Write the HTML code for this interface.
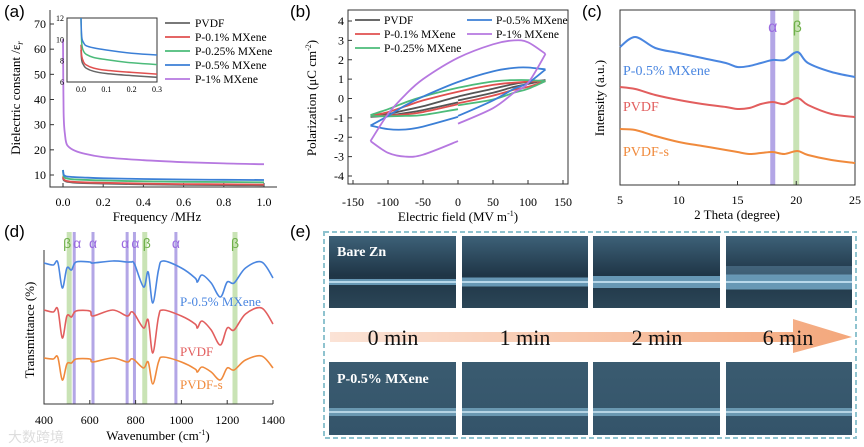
<!DOCTYPE html>
<html><head><meta charset="utf-8"><style>
html,body{margin:0;padding:0;background:#fff;}
svg{display:block;font-family:"Liberation Serif",serif;}
.pl{font-family:"Liberation Sans",sans-serif;font-size:17px;}
</style></head><body>
<svg id="fig" width="864" height="447" viewBox="0 0 864 447" xmlns="http://www.w3.org/2000/svg">
<defs>
<linearGradient id="arrowGrad" x1="0" x2="1" y1="0" y2="0"><stop offset="0" stop-color="#fbe3d6"/><stop offset="1" stop-color="#f4a77b"/></linearGradient>
<linearGradient id="topPhoto" x1="0" x2="0" y1="0" y2="1"><stop offset="0" stop-color="#3d6178"/><stop offset="0.55" stop-color="#1f3546"/><stop offset="1" stop-color="#2b4657"/></linearGradient>
<linearGradient id="botPhoto" x1="0" x2="0" y1="0" y2="1"><stop offset="0" stop-color="#3a5b70"/><stop offset="1" stop-color="#34546a"/></linearGradient>
</defs>
<rect width="864" height="447" fill="#fff"/>
<text class="pl" x="4" y="17">(a)</text>
<text class="pl" x="290" y="17">(b)</text>
<text class="pl" x="582" y="17">(c)</text>
<text class="pl" x="4" y="237">(d)</text>
<text class="pl" x="290" y="237">(e)</text>
<g id="ga"></g>
<g id="gb"></g>
<g id="gc"></g>
<g id="gd"></g>
<g id="ge">
<rect x="324" y="232" width="532" height="206" fill="none" stroke="#8fc3cf" stroke-width="2" stroke-dasharray="5,3"/>
<path d="M330,332 L793,332 L793,319 L852,337 L793,353 L793,342 L330,342 Z" fill="url(#arrowGrad)"/>
<g font-size="22" fill="#111" text-anchor="middle">
<text x="393" y="345">0 min</text>
<text x="525" y="345">1 min</text>
<text x="657" y="345">2 min</text>
<text x="788" y="345">6 min</text>
</g>
</g>
<text x="8" y="442" font-family="Liberation Sans,Noto Sans CJK SC,sans-serif" font-size="14" fill="#ddd">大数跨境</text>
</svg>
<script>
const NS='http://www.w3.org/2000/svg';
function el(p,t,a,txt){const e=document.createElementNS(NS,t);for(const k in a)e.setAttribute(k,a[k]);if(txt!==undefined)e.textContent=txt;p.appendChild(e);return e;}
function lin(d0,d1,r0,r1){return v=>r0+(v-d0)*(r1-r0)/(d1-d0);}
function smooth(pts){if(!pts.length)return'';let d='M'+pts[0][0].toFixed(1)+','+pts[0][1].toFixed(1);for(let i=0;i<pts.length-1;i++){const p0=pts[i-1]||pts[i],p1=pts[i],p2=pts[i+1],p3=pts[i+2]||p2;const c1=[p1[0]+(p2[0]-p0[0])/6,p1[1]+(p2[1]-p0[1])/6],c2=[p2[0]-(p3[0]-p1[0])/6,p2[1]-(p3[1]-p1[1])/6];d+='C'+c1.map(v=>v.toFixed(1))+' '+c2.map(v=>v.toFixed(1))+' '+p2.map(v=>v.toFixed(1));}return d;}

/* ---------- Panel A data ---------- */
const aFreq=[0,0.003,0.01,0.02,0.05,0.1,0.2,0.4,0.6,0.8,1.0];
const aPVDF=[9,8,7.6,7.3,7,6.8,6.6,6.3,6.1,6,5.9];
const aP01=[9.5,8.4,7.9,7.6,7.3,7.1,6.9,6.6,6.4,6.3,6.2];
const aP025=[12,9.6,8.9,8.6,8.3,8.1,7.8,7.5,7.3,7.2,7.1];
const aP05=[12,10.2,9.7,9.4,9.2,9,8.7,8.4,8.2,8.1,8.0];
const aP1=[64,35,26,22,20,18.6,17.1,15.9,15.1,14.6,14.3];
const aNames=['PVDF','P-0.1% MXene','P-0.25% MXene','P-0.5% MXene','P-1% MXene'];
const aColors=['#666','#e0504f','#4cbb7a','#3b7fd6','#b678e0'];
const aXTicks=[0,0.2,0.4,0.6,0.8,1.0];
const aYTicks=[10,20,30,40,50,60,70];
const aInsetXTicks=[0,0.1,0.2,0.3];
const aInsetYTicks=[6,8,10,12];
(function(){
 const g=document.getElementById('ga');
 const X=lin(0,1,63,264),Y=lin(10,70,175,24);
 el(g,'path',{d:'M50,10 L50,187 L277,187',fill:'none',stroke:'#333','stroke-width':1});
 aXTicks.forEach(t=>{el(g,'line',{x1:X(t),x2:X(t),y1:187,y2:183,stroke:'#333'});const e=el(g,'text',{x:X(t),y:206,'font-size':12,'text-anchor':'middle'},t.toFixed(1));});
 aYTicks.forEach(t=>{el(g,'line',{x1:50,x2:54,y1:Y(t),y2:Y(t),stroke:'#333'});const e=el(g,'text',{x:46,y:Y(t)+4,'font-size':12,'text-anchor':'end'},t);});
 const xt=el(g,'text',{x:157,y:221,'font-size':13,'text-anchor':'middle'},'Frequency /MHz');
 const yt=el(g,'text',{x:0,y:0,'font-size':13,'text-anchor':'middle',transform:'translate(20,98) rotate(-90)'},'Dielectric constant /ε');
 el(yt,'tspan',{'font-size':9,dy:3,'font-style':'italic'},'r');
 const series=[aPVDF,aP01,aP025,aP05,aP1];
 series.forEach((s,i)=>{const p=el(g,'path',{d:smooth(aFreq.map((f,j)=>[X(f),Y(s[j])])),fill:'none',stroke:aColors[i],'stroke-width':1.8});});
 // inset
 const IX=lin(0,0.3,81,157),IY=lin(6,12,82,18);
 el(g,'rect',{x:67,y:18,width:90,height:64,fill:'#fff',stroke:'#333','stroke-width':1});
 const cl=el(g,'clipPath',{id:'insetClip'});el(cl,'rect',{x:67,y:18,width:90,height:64});
 const ig=el(g,'g',{'clip-path':'url(#insetClip)'});
 series.slice(0,4).forEach((s,i)=>{const p=el(ig,'path',{d:smooth(aFreq.map((f,j)=>[IX(f),IY(s[j])])),fill:'none',stroke:aColors[i],'stroke-width':1.5});});
 aInsetXTicks.forEach(t=>{el(g,'text',{x:IX(t),y:92,'font-size':8,'text-anchor':'middle'},t.toFixed(1));});
 aInsetYTicks.forEach(t=>{el(g,'text',{x:64,y:IY(t)+3,'font-size':8,'text-anchor':'end'},t);});
 aNames.forEach((n,i)=>{const y=23+i*14;el(g,'line',{x1:165,x2:190,y1:y,y2:y,stroke:aColors[i],'stroke-width':1.8});const t=el(g,'text',{x:195,y:y+4,'font-size':11.5},n);});
})();

/* ---------- Panel B data ---------- */
const bField=[-125,-100,-75,-50,0,50,80,100,125];
const bNames=['PVDF','P-0.1% MXene','P-0.25% MXene','P-0.5% MXene','P-1% MXene'];
const bColors=['#555','#e0504f','#4cbb7a','#3b7fd6','#b678e0'];
const bUpper=[[-0.95,-0.8,-0.6,-0.4,0.1,0.5,0.75,0.85,0.95],[-0.9,-0.7,-0.4,-0.1,0.35,0.7,0.82,0.87,0.9],[-0.85,-0.55,-0.2,0.1,0.55,0.88,0.95,0.95,0.9],[-1.4,-0.9,-0.35,0.1,0.85,1.4,1.58,1.6,1.5],[-2.2,-0.8,0.2,1.0,2.1,2.8,3.0,2.9,2.3]];
const bLower=[[-0.95,-0.88,-0.75,-0.6,-0.2,0.3,0.6,0.75,0.95],[-0.9,-0.88,-0.82,-0.7,-0.3,0.15,0.45,0.6,0.9],[-0.9,-0.92,-0.9,-0.85,-0.55,-0.05,0.3,0.5,0.9],[-1.4,-1.58,-1.6,-1.45,-0.95,-0.1,0.5,0.8,1.5],[-2.2,-2.8,-3.0,-2.9,-2.2,-0.5,0.3,0.8,2.3]];
const bLowerAt0Right=[-0.1,-0.25,-0.35,-0.9,-1.3];
const bXTicks=[-150,-100,-50,0,50,100,150];
const bYTicks=[-4,-3,-2,-1,0,1,2,3,4];
(function(){
 const g=document.getElementById('gb');
 const X=lin(-150,150,353,563),Y=lin(-4,4,176,21);
 el(g,'rect',{x:348,y:10,width:220,height:174,fill:'none',stroke:'#333'});
 bXTicks.forEach(t=>{el(g,'line',{x1:X(t),x2:X(t),y1:184,y2:180,stroke:'#333'});const e=el(g,'text',{x:X(t),y:206,'font-size':12,'text-anchor':'middle'},t);});
 bYTicks.forEach(t=>{el(g,'line',{x1:348,x2:352,y1:Y(t),y2:Y(t),stroke:'#333'});const e=el(g,'text',{x:344,y:Y(t)+4,'font-size':12,'text-anchor':'end'},t);});
 const xt=el(g,'text',{x:458,y:221,'font-size':13,'text-anchor':'middle'},'Electric field (MV m');
 el(xt,'tspan',{'font-size':8,dy:-5},'-1');el(xt,'tspan',{dy:5},')');
 const yt=el(g,'text',{x:0,y:0,'font-size':13,'text-anchor':'middle',transform:'translate(316,98) rotate(-90)'},'Polarization (μC cm');
 el(yt,'tspan',{'font-size':8,dy:-5},'-2');el(yt,'tspan',{dy:5},')');
 const i0=bField.indexOf(0);
 bNames.forEach((n,i)=>{
  const up=bField.map((e,j)=>[X(e),Y(bUpper[i][j])]);
  const lowR=[];for(let j=bField.length-1;j>i0;j--)lowR.push([X(bField[j]),Y(bLower[i][j])]);lowR.push([X(0),Y(bLowerAt0Right[i])]);
  const lowL=[];for(let j=i0;j>=0;j--)lowL.push([X(bField[j]),Y(bLower[i][j])]);
  const p=el(g,'path',{d:smooth(lowL.slice().reverse().concat([]))+' '+smooth(up)+' '+smooth(lowR),fill:'none',stroke:bColors[i],'stroke-width':1.8});
  
 });
 const pos=[[355,20],[355,34],[355,48],[467,20],[467,34]];
 bNames.forEach((n,i)=>{const [x,y]=pos[i];el(g,'line',{x1:x,x2:x+25,y1:y,y2:y,stroke:bColors[i],'stroke-width':1.8});const t=el(g,'text',{x:x+29,y:y+4,'font-size':11.5},n);});
})();

/* ---------- Panel C data ---------- */
const cTheta=[5,6.3,8,10,12,14,15,16,17,18,19,20.1,21,23,25];
const cBlue=[138,148,137,132,127,122,118,119,122,125,125,133,122,113,108];
const cRed=[98,96,90,85,81,78,76,77,81,83,81,87,80,71,68];
const cOrange=[56,55,49,43,39,35,33,31,32,33,31,34,30,25,22];
const cXTicks=[5,10,15,20,25];
const cAlpha=18, cBeta=20;
(function(){
 const g=document.getElementById('gc');
 const X=lin(5,25,620,855),Y=lin(0,175,185,10);
 el(g,'rect',{x:X(cAlpha)-2.5,y:10,width:5,height:175,fill:'#b3a6e6'});
 el(g,'rect',{x:X(cBeta)-3,y:10,width:6,height:175,fill:'#c9e3b5'});
 el(g,'text',{x:X(cAlpha),y:32,'font-size':16,fill:'#9b6be0','text-anchor':'middle','font-family':'Liberation Sans,sans-serif'},'α');
 el(g,'text',{x:X(cBeta)+1,y:32,'font-size':16,fill:'#6fb04a','text-anchor':'middle','font-family':'Liberation Sans,sans-serif'},'β');
 el(g,'rect',{x:620,y:10,width:235,height:175,fill:'none',stroke:'#333'});
 cXTicks.forEach(t=>{el(g,'line',{x1:X(t),x2:X(t),y1:185,y2:181,stroke:'#333'});const e=el(g,'text',{x:X(t),y:204,'font-size':12,'text-anchor':'middle'},t);});
 const xt=el(g,'text',{x:737,y:219,'font-size':13,'text-anchor':'middle'},'2 Theta (degree)');
 const yt=el(g,'text',{x:0,y:0,'font-size':13,'text-anchor':'middle',transform:'translate(604,98) rotate(-90)'},'Intensity (a.u.)');
 const S=[[cBlue,'#4a86e0','P-0.5% MXene',75],[cRed,'#e25e5e','PVDF',111],[cOrange,'#f08a3c','PVDF-s',156]];
 S.forEach(([s,c,n,ly])=>{const p=el(g,'path',{d:smooth(cTheta.map((t,j)=>[X(t),Y(s[j])])),fill:'none',stroke:c,'stroke-width':2});
  const t=el(g,'text',{x:623,y:ly,'font-size':14,fill:c},n);});
})();

/* ---------- Panel D data ---------- */
const dWave=[400,440,460,480,500,520,540,600,614,700,763,780,795,835,855,875,900,920,1000,1060,1070,1090,1130,1170,1200,1230,1280,1350,1400];
const dBlue=[157,155,158,132,152,150,158,158,157,159,158,158,156,133,148,117,150,159,152,142,138,145,137,123,138,137,152,158,142];
const dRed=[110,108,111,82,104,103,109,109,104,110,104,108,106,92,100,67,103,110,104,96,92,99,90,75,92,90,106,112,96];
const dOrange=[62,61,63,40,56,57,61,61,58,62,58,61,60,52,58,36,58,63,58,51,48,53,48,40,52,50,60,64,52];
const dBands=[[510,'β'],[532,'α'],[614,'α'],[763,'α'],[795,'α'],[840,'β'],[976,'α'],[1234,'β']];
const dXTicks=[400,600,800,1000,1200,1400];
(function(){
 const g=document.getElementById('gd');
 const X=lin(400,1400,44,273),Y=lin(0,200,420,220);
 dBands.forEach(([w,s])=>{const isA=s==='α';const r=el(g,'rect',{x:X(w)-(isA?1.5:2.5),y:232,width:isA?3:5,height:172,fill:isA?'#b3a6e6':'#c9e3b5'});});
 dBands.forEach(([w,s],i)=>{let dx=0;if(w===510)dx=-2;if(w===532)dx=3;if(w===763)dx=-2;if(w===795)dx=1;if(w===840)dx=2;el(g,'text',{x:X(w)+dx,y:248,'font-size':14,fill:s==='α'?'#9b6be0':'#6fb04a','text-anchor':'middle','font-family':'Liberation Sans,sans-serif'},s);});
 el(g,'path',{d:'M44,250 L44,404 L273,404',fill:'none',stroke:'#333'});
 dXTicks.forEach(t=>{el(g,'line',{x1:X(t),x2:X(t),y1:404,y2:400,stroke:'#333'});const e=el(g,'text',{x:X(t),y:424,'font-size':12,'text-anchor':'middle'},t);});
 const xt=el(g,'text',{x:158,y:440,'font-size':13,'text-anchor':'middle'},'Wavenumber (cm');
 el(xt,'tspan',{'font-size':8,dy:-5},'-1');el(xt,'tspan',{dy:5},')');
 const yt=el(g,'text',{x:0,y:0,'font-size':13,'text-anchor':'middle',transform:'translate(34,330) rotate(-90)'},'Transmittance (%)');
 const S=[[dBlue,'#4a86e0','P-0.5% MXene',306],[dRed,'#e25e5e','PVDF',356],[dOrange,'#f08a3c','PVDF-s',389]];
 S.forEach(([s,c,n,ly])=>{const p=el(g,'path',{d:smooth(dWave.map((w,j)=>[X(w),Y(s[j])])),fill:'none',stroke:c,'stroke-width':1.6});
  const t=el(g,'text',{x:180,y:ly,'font-size':13,fill:c},n);});
})();

/* ---------- Panel E photos ---------- */
(function(){
 const g=document.getElementById('ge');
 const cols=[[329,456],[462,588],[593,720],[726,852]];
 cols.forEach(([x0,x1],i)=>{
  const r1=el(g,'rect',{x:x0,y:236,width:x1-x0,height:72,fill:'url(#topPhoto)'});
  const bw=3+i*1.5;
  el(g,'rect',{x:x0,y:282-bw,width:x1-x0,height:bw*2,fill:'#7fb8d8',opacity:0.75});
  el(g,'rect',{x:x0,y:281,width:x1-x0,height:2,fill:'#cde9f7',opacity:0.8});
  if(i===3)el(g,'rect',{x:x0,y:266,width:x1-x0,height:10,fill:'#6d9cb8',opacity:0.4});
  const r2=el(g,'rect',{x:x0,y:362,width:x1-x0,height:73,fill:'url(#botPhoto)'});
  el(g,'rect',{x:x0,y:408,width:x1-x0,height:8,fill:'#8ec4e0',opacity:0.6});
  el(g,'rect',{x:x0,y:411,width:x1-x0,height:2,fill:'#d6eef9',opacity:0.7});
 });
 const a=el(g,'text',{x:337,y:256,'font-size':14,'font-weight':'bold',fill:'#fff'},'Bare Zn');
 const b=el(g,'text',{x:337,y:383,'font-size':14,'font-weight':'bold',fill:'#fff'},'P-0.5% MXene');
})();
</script>
</body></html>
